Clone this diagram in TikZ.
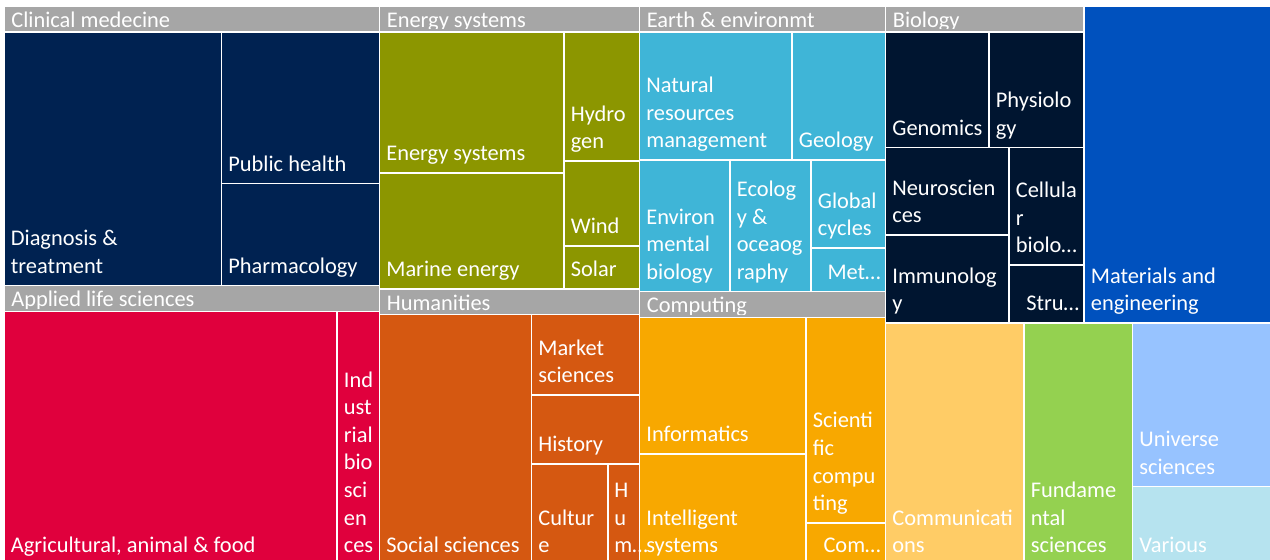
\documentclass[tikz,border=0pt]{standalone}
\usepackage{fontspec}
\setmainfont{Carlito}

\definecolor{hdrgray}{RGB}{166,166,166}
\definecolor{clinnavy}{RGB}{0,34,81}
\definecolor{appred}{RGB}{224,0,61}
\definecolor{enolive}{RGB}{140,150,0}
\definecolor{humorange}{RGB}{213,88,17}
\definecolor{earthblue}{RGB}{63,181,215}
\definecolor{compamber}{RGB}{248,168,0}
\definecolor{bionavy}{RGB}{0,21,48}
\definecolor{matblue}{RGB}{0,81,190}
\definecolor{commyellow}{RGB}{255,204,102}
\definecolor{fundgreen}{RGB}{148,209,80}
\definecolor{univblue}{RGB}{151,195,255}
\definecolor{varcyan}{RGB}{182,227,239}

\tikzset{
	cell/.style={draw=white, line width=1.1pt},
	hdr/.style={cell, fill=hdrgray},
	hlbl/.style={anchor=base west, inner sep=0pt, text=white, font=\fontsize{12.75}{15.7}\selectfont},
	lbl/.style={anchor=south west, inner sep=0pt, align=left, text=white, font=\fontsize{12.75}{15.7}\selectfont, execute at end node={\strut}},
	lblr/.style={lbl, anchor=south east, align=right},
}

\begin{document}
\begin{tikzpicture}[x=0.02cm, y=-0.02cm]
	\useasboundingbox (0,0) rectangle (1270,559);

	% group headers
	\draw[hdr] (4,6) rectangle (379.5,32);
	\draw[hdr] (379.5,6) rectangle (639.5,32);
	\draw[hdr] (639.5,6) rectangle (885.5,32);
	\draw[hdr] (885.5,6) rectangle (1084,32);
	\draw[hdr] (4,285.5) rectangle (379.5,311.5);
	\draw[hdr] (379.5,289) rectangle (639.5,314.5);
	\draw[hdr] (639.5,291.5) rectangle (885.5,317.5);

	% header texts, cut at the bottom
	\begin{scope}
		\clip (0,0) rectangle (1270,28.5);
		\node[hlbl] (hclin) at (11,27) {Clinical medecine};
		\node[hlbl] (hener) at (386.5,27) {Energy systems};
		\node[hlbl] (hearth) at (646.5,27) {Earth \& environmt};
		\node[hlbl] (hbio) at (892.5,27) {Biology};
	\end{scope}
	\begin{scope}
		\clip (0,280) rectangle (379.5,308);
		\node[hlbl] (happ) at (11,306.5) {Applied life sciences};
	\end{scope}
	\begin{scope}
		\clip (379.5,280) rectangle (639.5,311.5);
		\node[hlbl] (hhum) at (386.5,310) {Humanities};
	\end{scope}
	\begin{scope}
		\clip (639.5,280) rectangle (885.5,314);
		\node[hlbl] (hcomp) at (646.5,312.5) {Computing};
	\end{scope}

	% clinical medecine
	\draw[cell, fill=clinnavy] (4,32) rectangle (221.5,285.5);
	\draw[cell, fill=clinnavy] (221.5,32) rectangle (379.5,183.5);
	\draw[cell, fill=clinnavy] (221.5,183.5) rectangle (379.5,285.5);

	% applied life sciences
	\draw[cell, fill=appred] (4,311.5) rectangle (337,565);
	\draw[cell, fill=appred] (337,311.5) rectangle (379.5,565);

	% energy systems
	\draw[cell, fill=enolive] (379.5,32) rectangle (564,173);
	\draw[cell, fill=enolive] (379.5,173) rectangle (564,289);
	\draw[cell, fill=enolive] (564,32) rectangle (639.5,161);
	\draw[cell, fill=enolive] (564,161) rectangle (639.5,246);
	\draw[cell, fill=enolive] (564,246) rectangle (639.5,289);

	% humanities
	\draw[cell, fill=humorange] (379.5,314.5) rectangle (531.5,565);
	\draw[cell, fill=humorange] (531.5,314.5) rectangle (639.5,395);
	\draw[cell, fill=humorange] (531.5,395) rectangle (639.5,464);
	\draw[cell, fill=humorange] (531.5,464) rectangle (608,565);
	\draw[cell, fill=humorange] (608,464) rectangle (639.5,565);

	% earth & environment
	\draw[cell, fill=earthblue] (639.5,32) rectangle (792,160);
	\draw[cell, fill=earthblue] (792,32) rectangle (885.5,160);
	\draw[cell, fill=earthblue] (639.5,160) rectangle (730,291.5);
	\draw[cell, fill=earthblue] (730,160) rectangle (811,291.5);
	\draw[cell, fill=earthblue] (811,160) rectangle (885.5,248);
	\draw[cell, fill=earthblue] (811,248) rectangle (885.5,291.5);

	% computing
	\draw[cell, fill=compamber] (639.5,317.5) rectangle (806,454);
	\draw[cell, fill=compamber] (639.5,454) rectangle (806,565);
	\draw[cell, fill=compamber] (806,317.5) rectangle (885.5,523);
	\draw[cell, fill=compamber] (806,523) rectangle (885.5,565);

	% biology
	\draw[cell, fill=bionavy] (885.5,32) rectangle (989,147.5);
	\draw[cell, fill=bionavy] (989,32) rectangle (1084,147.5);
	\draw[cell, fill=bionavy] (885.5,147.5) rectangle (1009,235);
	\draw[cell, fill=bionavy] (885.5,235) rectangle (1009,323);
	\draw[cell, fill=bionavy] (1009,147.5) rectangle (1084,265);
	\draw[cell, fill=bionavy] (1009,265) rectangle (1084,323);

	% single fields
	\draw[cell, fill=matblue] (1084,6) rectangle (1275,323);
	\draw[cell, fill=commyellow] (885.5,323) rectangle (1024,565);
	\draw[cell, fill=fundgreen] (1024,323) rectangle (1132.5,565);
	\draw[cell, fill=univblue] (1132.5,323) rectangle (1275,486.5);
	\draw[cell, fill=varcyan] (1132.5,486.5) rectangle (1275,565);

	% labels
	\node[lbl] (diag) at (10.5,281.8) {Diagnosis \&\\treatment};
	\node[lbl] (pubh) at (228,179.8) {Public health};
	\node[lbl] (pharm) at (228,281.8) {Pharmacology};

	\node[lbl] (agri) at (10.5,561.3) {Agricultural, animal \& food};
	\node[lbl] (indus) at (343.5,561.3) {Ind\\ust\\rial\\bio\\sci\\en\\ces};

	\node[lbl] (ensys) at (386,169.3) {Energy systems};
	\node[lbl] (marine) at (386,285.3) {Marine energy};
	\node[lbl] (hydro) at (570.5,157.3) {Hydro\\gen};
	\node[lbl] (wind) at (570.5,242.3) {Wind};
	\node[lbl] (solar) at (570.5,285.3) {Solar};

	\node[lbl] (social) at (386,561.3) {Social sciences};
	\node[lbl] (market) at (538,391.3) {Market\\sciences};
	\node[lbl] (hist) at (538,460.3) {History};
	\node[lbl] (cult) at (538,561.3) {Cultur\\e};
	\node[lbl] (hum) at (614,561.3) {H\\u\\m…};

	\node[lbl] (natres) at (646,156.3) {Natural\\resources\\management};
	\node[lbl] (geol) at (798.5,156.3) {Geology};
	\node[lbl] (envbio) at (646,287.8) {Environ\\mental\\biology};
	\node[lbl] (ecol) at (736.5,287.8) {Ecolog\\y \&\\oceaog\\raphy};
	\node[lbl] (glob) at (817.5,244.3) {Global\\cycles};
	\node[lblr] (met) at (881,287.8) {Met…};

	\node[lbl] (inform) at (646,450.3) {Informatics};
	\node[lbl] (intel) at (646,561.3) {Intelligent\\systems};
	\node[lbl] (scicomp) at (812.5,519.3) {Scienti\\fic\\compu\\ting};
	\node[lblr] (com) at (881,561.3) {Com…};

	\node[lbl] (genom) at (892,143.8) {Genomics};
	\node[lbl] (physio) at (995.5,143.8) {Physiolo\\gy};
	\node[lbl] (neuro) at (892,231.3) {Neuroscien\\ces};
	\node[lbl] (immuno) at (892,319.3) {Immunolog\\y};
	\node[lbl] (cellb) at (1015.5,261.3) {Cellula\\r\\biolo…};
	\node[lblr] (stru) at (1079.5,319.3) {Stru…};

	\node[lbl] (mater) at (1090.5,319.3) {Materials and\\engineering};
	\node[lbl] (commun) at (892,561.3) {Communicati\\ons};
	\node[lbl] (fund) at (1030.5,561.3) {Fundame\\ntal\\sciences};
	\node[lbl] (univ) at (1139,482.8) {Universe\\sciences};
	\node[lbl] (vari) at (1139,561.3) {Various};
\end{tikzpicture}
\end{document}
